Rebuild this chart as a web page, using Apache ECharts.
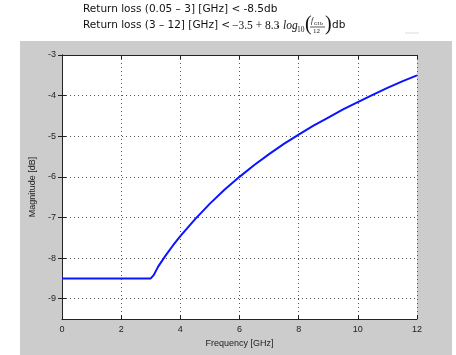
<!DOCTYPE html>
<html>
<head>
<meta charset="utf-8">
<script src="https://cdn.jsdelivr.net/npm/echarts@6/dist/echarts.min.js"></script>
<style>
  html, body { margin: 0; padding: 0; background: #fff; }
  #chart { width: 456px; height: 355px; }
</style>
</head>
<body>
<div id="chart"></div>
<script>
// values
var freqs = [0, 1, 2, 3, 3.05, 3.1, 3.25, 3.5, 3.75, 4, 4.5, 5, 5.5, 6, 6.5, 7, 7.5, 8, 8.5, 9, 9.5, 10, 10.5, 11, 11.5, 12];
var magnitude = [-8.5, -8.5, -8.5, -8.5, -8.48, -8.42, -8.21, -7.94, -7.69, -7.46, -7.04, -6.66, -6.31, -6.0, -5.71, -5.44, -5.19, -4.96, -4.74, -4.54, -4.34, -4.16, -3.98, -3.81, -3.65, -3.5];
var yTicks = [-9, -8, -7, -6, -5, -4, -3];

var chart = echarts.init(document.getElementById('chart'));

var points = freqs.map(function(f, i) { return [f, magnitude[i]]; });

var dotted = { show: true, lineStyle: { color: '#555', type: [1, 3], width: 1 } };
var boxLine = { show: true, lineStyle: { color: '#222' } };
var tick = { show: true, inside: true, length: 4, lineStyle: { color: '#222' } };
var serif = '"Liberation Serif"';

option = {
    animation: false,
    backgroundColor: '#fff',
    graphic: [
        { type: 'rect', left: 20, top: 41, shape: { width: 432, height: 314 }, style: { fill: '#cccccc' }, z: -10 },
        { type: 'rect', left: 62, top: 55, shape: { width: 355, height: 264 }, style: { fill: '#ffffff' }, z: -9 },
        // title lines
        { type: 'text', left: 83, top: 4, style: { text: 'Return loss (0.05 – 3] [GHz] < -8.5db', font: '10.5px "DejaVu Sans"', fill: '#111' } },
        { type: 'text', left: 83, top: 20, style: { text: 'Return loss (3 – 12] [GHz] <', font: '10.5px "DejaVu Sans"', fill: '#111' } },
        // formula
        { type: 'text', left: 232, top: 20, style: { text: '−3.5 + 8.3', font: '11.5px ' + serif, fill: '#111' } },
        { type: 'circle', shape: { cx: 278, cy: 26.5, r: 0.9 }, style: { fill: '#111' } },
        { type: 'text', left: 283, top: 20, style: { text: 'log', font: 'italic 11.5px ' + serif, fill: '#111' } },
        { type: 'text', left: 297, top: 26, style: { text: '10', font: '7.5px ' + serif, fill: '#111' } },
        { type: 'text', left: 305, top: 15, style: { text: '(', font: '20px ' + serif, fill: '#111' } },
        { type: 'text', left: 311, top: 17, style: { text: 'f', font: 'italic 8px ' + serif, fill: '#111' } },
        { type: 'text', left: 314, top: 21, style: { text: 'GHz', font: 'italic 5px ' + serif, fill: '#111' } },
        { type: 'line', shape: { x1: 310, y1: 27, x2: 325, y2: 27 }, style: { stroke: '#111', lineWidth: 0.7 } },
        { type: 'text', left: 313, top: 28, style: { text: '12', font: '7px ' + serif, fill: '#111' } },
        { type: 'text', left: 325, top: 15, style: { text: ')', font: '20px ' + serif, fill: '#111' } },
        { type: 'text', left: 332, top: 20, style: { text: 'db', font: '10.5px "DejaVu Sans"', fill: '#111' } },
        { type: 'line', shape: { x1: 405, y1: 33, x2: 419, y2: 33 }, style: { stroke: '#dddddd', lineWidth: 1 } }
    ],
    grid: [{ left: 62, top: 55, width: 355, height: 264 }],
    xAxis: [{
        type: 'value', min: 0, max: 12, interval: 2,
        name: 'Frequency [GHz]', nameLocation: 'middle', nameGap: 20,
        nameTextStyle: { fontFamily: 'Liberation Sans', fontSize: 9, color: '#222' },
        axisLine: boxLine,
        axisTick: tick,
        axisLabel: { fontFamily: 'Liberation Sans', fontSize: 9, color: '#222', margin: 6 },
        splitLine: dotted
    }, {
        type: 'value', min: 0, max: 12, interval: 2, position: 'top',
        axisLine: boxLine,
        axisTick: tick,
        axisLabel: { show: false }, splitLine: { show: false }
    }],
    yAxis: [{
        type: 'value', min: -9.5, max: -3,
        name: 'Magnitude [dB]', nameLocation: 'middle', nameGap: 24, nameRotate: 90,
        nameTextStyle: { fontFamily: 'Liberation Sans', fontSize: 9, color: '#222' },
        axisLine: boxLine,
        axisTick: { show: true, inside: true, length: 4, customValues: yTicks, lineStyle: { color: '#222' } },
        axisLabel: { fontFamily: 'Liberation Sans', fontSize: 9, color: '#222', margin: 6, customValues: yTicks },
        splitLine: dotted
    }, {
        type: 'value', min: -9.5, max: -3, position: 'right',
        axisLine: boxLine,
        axisTick: { show: true, inside: true, length: 4, customValues: yTicks, lineStyle: { color: '#222' } },
        axisLabel: { show: false, customValues: yTicks }, splitLine: { show: false }
    }],
    series: [{
        type: 'line',
        data: points,
        showSymbol: false,
        lineStyle: { color: '#0a14ff', width: 2 },
        itemStyle: { color: '#0a14ff' }
    }]
};

chart.setOption(option);
</script>
</body>
</html>
